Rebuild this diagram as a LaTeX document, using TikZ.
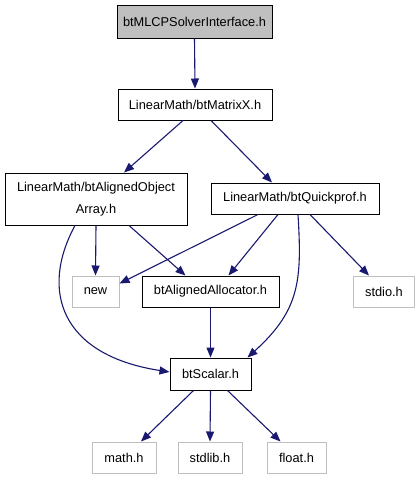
\documentclass[tikz,border=0pt]{standalone}
\usepackage{fontspec}
\setmainfont{Liberation Sans}
\usetikzlibrary{arrows.meta,calc}
\definecolor{edgecol}{HTML}{191970}
\definecolor{graybd}{HTML}{BFBFBF}
\tikzset{
  box/.style={draw=black, line width=1pt, rectangle, inner sep=0pt, minimum height=31pt, font=\fontsize{12.8}{16}\selectfont, align=center},
  extbox/.style={box, draw=graybd},
  topbox/.style={box, fill=graybd},
  edge/.style={draw=edgecol, line width=1.1pt, -{Triangle[length=10pt,width=8pt]}},
}
\begin{document}
\begin{tikzpicture}[x=1pt,y=-1pt]
\useasboundingbox (0,0) rectangle (420,480);
\node[topbox, minimum width=155pt, minimum height=33pt] (top) at (194.5,21.5) {btMLCPSolverInterface.h};
\node[box, minimum width=154pt] (mx) at (195,104.5) {LinearMath/btMatrixX.h};
\node[box, minimum width=182pt, minimum height=52pt, font=\fontsize{12.8}{22}\selectfont] (aoa) at (96,199) {LinearMath/btAlignedObject\\Array.h};
\node[box, minimum width=168pt] (qp) at (295,198.5) {LinearMath/btQuickprof.h};
\node[extbox, minimum width=47pt] (new) at (95.5,291.5) {new};
\node[box, minimum width=137pt] (alloc) at (210.5,291.5) {btAlignedAllocator.h};
\node[extbox, minimum width=61pt] (stdio) at (384,291.5) {stdio.h};
\node[box, minimum width=81pt, minimum height=32pt] (scalar) at (210.5,374) {btScalar.h};
\node[extbox, minimum width=64pt] (math) at (124,457.5) {math.h};
\node[extbox, minimum width=64pt] (stdlib) at (210,457.5) {stdlib.h};
\node[extbox, minimum width=59pt] (float) at (296.5,457.5) {float.h};

\draw[edge] (top.south) -- (mx.north);
\draw[edge] ($(mx.south)+(-12,0)$) -- ($(aoa.north)+(28,0)$);
\draw[edge] ($(mx.south)+(16,0)$) -- ($(qp.north)+(-23,0)$);
\draw[edge] (aoa.south) -- (new.north);
\draw[edge] ($(aoa.south)+(33,0)$) -- ($(alloc.north)+(-25,0)$);
\draw[edge] ($(aoa.south)+(-21,0)$) .. controls (40,290) and (60,355) .. ($(scalar.west)+(0,-2)$);
\draw[edge] ($(qp.south)+(-37,0)$) -- ($(new.east)+(0,-8)$);
\draw[edge] ($(qp.south)+(-17,0)$) -- ($(alloc.north)+(18,0)$);
\draw[edge] ($(qp.south)+(3,0)$) .. controls (302,280) and (300,310) .. ($(scalar.north east)+(-4,0)$);
\draw[edge] ($(qp.south)+(15,0)$) -- ($(stdio.north)+(-15,0)$);
\draw[edge] (alloc.south) -- (scalar.north);
\draw[edge] ($(scalar.south)+(-17,0)$) -- ($(math.north)+(17,0)$);
\draw[edge] (scalar.south) -- (stdlib.north);
\draw[edge] ($(scalar.south)+(17,0)$) -- ($(float.north)+(-16,0)$);
\end{tikzpicture}
\end{document}
